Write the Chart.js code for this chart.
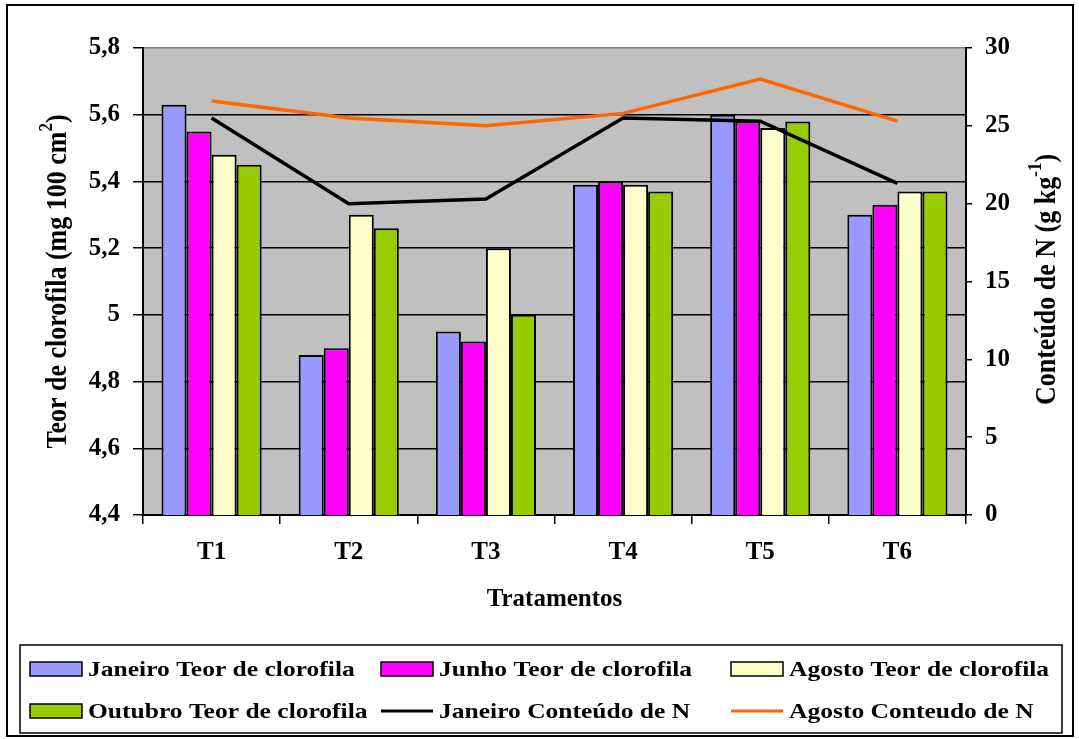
<!DOCTYPE html>
<html>
<head>
<meta charset="utf-8">
<script src="https://cdn.jsdelivr.net/npm/chart.js@4.4.1/dist/chart.umd.min.js"></script>
<style>
  html, body { margin: 0; padding: 0; background: #fff; }
  #wrap { width: 1079px; height: 739px; }
</style>
</head>
<body>
<div id="wrap"><canvas id="grafico" width="1079" height="739"></canvas></div>
<script>
// Tratamentos e séries
const categorias = ['T1', 'T2', 'T3', 'T4', 'T5', 'T6'];
const janeiroClorofila = [5.63, 4.88, 4.95, 5.39, 5.60, 5.30];
const junhoClorofila   = [5.55, 4.90, 4.92, 5.40, 5.58, 5.33];
const agostoClorofila  = [5.48, 5.30, 5.20, 5.39, 5.56, 5.37];
const outubroClorofila = [5.45, 5.26, 5.00, 5.37, 5.58, 5.37];
const janeiroN = [25.5, 20.0, 20.3, 25.5, 25.3, 21.3];
const agostoN  = [26.6, 25.5, 25.0, 25.8, 28.0, 25.3];

// Rótulos dos eixos
const rotulosClorofila = ['4,4', '4,6', '4,8', '5', '5,2', '5,4', '5,6', '5,8'];
const rotulosN = ['0', '5', '10', '15', '20', '25', '30'];

const FAMILIA = "'Liberation Serif', 'Times New Roman', serif";
const ESTICA = 1.16; // largura extra das letras

// Fundo cinza da área de plotagem e moldura externa
const fundo = {
  id: 'fundo',
  beforeDraw(chart) {
    const { ctx, chartArea: a } = chart;
    ctx.save();
    ctx.fillStyle = '#fff';
    ctx.fillRect(0, 0, chart.width, chart.height);
    ctx.fillStyle = '#C0C0C0';
    ctx.fillRect(a.left, a.top, a.right - a.left, a.bottom - a.top);
    ctx.strokeStyle = '#000';
    ctx.lineWidth = 2;
    ctx.strokeRect(7, 5, 1066, 731);
    ctx.restore();
  }
};

// Títulos verticais com sobrescrito
function textoGirado(ctx, cx, cy, partes, tam) {
  ctx.save();
  ctx.translate(cx, cy);
  ctx.rotate(-Math.PI / 2);
  ctx.scale(1, ESTICA);
  const normal = `bold ${tam}px ${FAMILIA}`;
  const menor = `bold ${Math.round(tam * 0.65)}px ${FAMILIA}`;
  let total = 0;
  partes.forEach(p => {
    ctx.font = p.sup ? menor : normal;
    p.w = ctx.measureText(p.t).width;
    total += p.w;
  });
  let x = -total / 2;
  ctx.textBaseline = 'middle';
  ctx.fillStyle = '#000';
  partes.forEach(p => {
    ctx.font = p.sup ? menor : normal;
    ctx.fillText(p.t, x, p.sup ? -tam * 0.36 : 0);
    x += p.w;
  });
  ctx.restore();
}

const titulosEixos = {
  id: 'titulosEixos',
  afterDraw(chart) {
    const { ctx, chartArea: a } = chart;
    const meio = (a.top + a.bottom) / 2;
    textoGirado(ctx, 58, meio, [
      { t: 'Teor de clorofila (mg 100 cm' }, { t: '2', sup: true }, { t: ')' }
    ], 26);
    textoGirado(ctx, 1047, meio - 2, [
      { t: 'Conteúdo de N (g kg' }, { t: '-1', sup: true }, { t: ')' }
    ], 26);
  }
};

// Legenda em grade de 3 colunas
const legendaGrade = {
  id: 'legendaGrade',
  afterDraw(chart) {
    const { ctx } = chart;
    ctx.save();
    ctx.strokeStyle = '#000';
    ctx.lineWidth = 1.5;
    ctx.strokeRect(20, 645, 1042, 88);
    const colunas = [30, 381, 731];
    const linhas = [669, 711];
    chart.data.datasets.forEach((ds, i) => {
      const x = colunas[i % 3];
      const y = linhas[Math.floor(i / 3)];
      if (ds.type === 'line') {
        ctx.strokeStyle = ds.borderColor;
        ctx.lineWidth = 3;
        ctx.beginPath();
        ctx.moveTo(x, y);
        ctx.lineTo(x + 52, y);
        ctx.stroke();
      } else {
        ctx.fillStyle = ds.backgroundColor;
        ctx.fillRect(x, y - 7, 52, 14);
        ctx.strokeStyle = '#000';
        ctx.lineWidth = 1.5;
        ctx.strokeRect(x, y - 7, 52, 14);
      }
      ctx.save();
      ctx.translate(x + 58, y + 1);
      ctx.scale(ESTICA, 1);
      ctx.font = `bold 22px ${FAMILIA}`;
      ctx.fillStyle = '#000';
      ctx.textBaseline = 'middle';
      ctx.fillText(ds.label, 0, 0);
      ctx.restore();
    });
    ctx.restore();
  }
};

const fonteTicks = { family: FAMILIA, size: 25, weight: 'bold' };

function barra(label, dados, cor) {
  return {
    type: 'bar', label, data: dados, backgroundColor: cor,
    borderColor: '#000', borderWidth: 2, yAxisID: 'y', order: 2,
    categoryPercentage: 0.73, barPercentage: 1.0
  };
}
function linha(label, dados, cor) {
  return {
    type: 'line', label, data: dados, borderColor: cor, backgroundColor: cor,
    borderWidth: 3.5, pointRadius: 0, tension: 0, fill: false, yAxisID: 'y1', order: 1
  };
}

new Chart(document.getElementById('grafico'), {
  data: {
    labels: categorias,
    datasets: [
      barra('Janeiro Teor de clorofila', janeiroClorofila, '#9999FF'),
      barra('Junho Teor de clorofila', junhoClorofila, '#FF00FF'),
      barra('Agosto Teor de clorofila', agostoClorofila, '#FFFFCC'),
      barra('Outubro Teor de clorofila', outubroClorofila, '#99CC00'),
      linha('Janeiro Conteúdo de N', janeiroN, '#000000'),
      linha('Agosto Conteudo de N', agostoN, '#FF6600')
    ]
  },
  options: {
    responsive: false,
    animation: false,
    devicePixelRatio: 1,
    events: [],
    layout: { padding: { top: 48, left: 0, right: 0, bottom: 0 } },
    plugins: { legend: { display: false }, tooltip: { enabled: false } },
    scales: {
      x: {
        type: 'category',
        position: 'bottom',
        offset: true,
        grid: { drawOnChartArea: false, drawTicks: true, tickLength: 9, tickColor: '#000', lineWidth: 1.5, offset: true },
        border: { color: '#000', width: 2 },
        ticks: { color: '#000', font: fonteTicks, padding: 14, maxRotation: 0 },
        title: {
          display: true, text: 'Tratamentos', color: '#000',
          font: { family: FAMILIA, size: 25, weight: 'bold' },
          padding: { top: 0, bottom: 124 }
        },
        afterFit(s) { s.height = 224; }
      },
      y: {
        position: 'left',
        min: 4.4, max: 5.8,
        grid: {
          color: c => (c.index === rotulosClorofila.length - 1 ? '#808080' : '#000'),
          tickColor: '#000', lineWidth: 1.5, tickLength: 10
        },
        border: { color: '#000', width: 2 },
        ticks: {
          stepSize: 0.2, color: '#000', font: fonteTicks, padding: 13,
          callback: (v, i) => rotulosClorofila[i]
        },
        afterFit(s) { s.width = 143; }
      },
      y1: {
        position: 'right',
        min: 0, max: 30,
        grid: { drawOnChartArea: false, tickColor: '#000', lineWidth: 1.5, tickLength: 6 },
        border: { color: '#000', width: 2 },
        ticks: {
          stepSize: 5, color: '#000', font: fonteTicks, padding: 13,
          callback: (v, i) => rotulosN[i]
        },
        afterFit(s) { s.width = 113; }
      }
    }
  },
  plugins: [fundo, titulosEixos, legendaGrade]
});
</script>
</body>
</html>
